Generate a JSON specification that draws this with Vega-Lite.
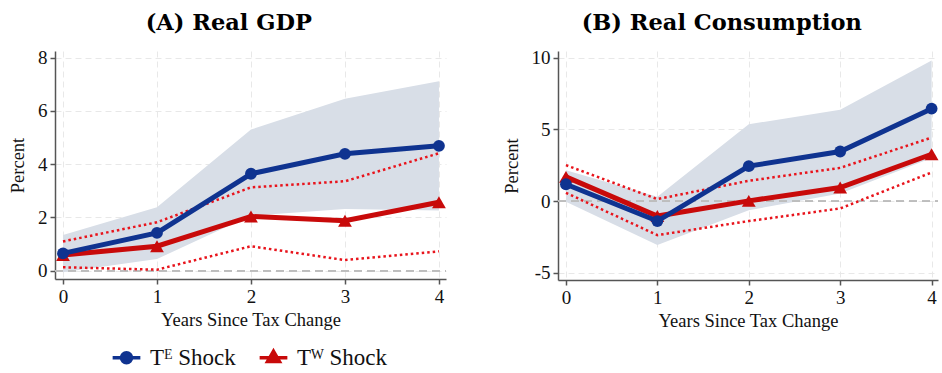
{
  "$schema": "https://vega.github.io/schema/vega-lite/v6.json",
  "background": "white",
  "padding": {"left": 8, "top": 12, "right": 4, "bottom": 2},
  "datasets": {
    "lines": [
      {"panel": "A", "series": "e", "year": 0, "val": 0.65},
      {"panel": "A", "series": "e", "year": 1, "val": 1.42},
      {"panel": "A", "series": "e", "year": 2, "val": 3.64},
      {"panel": "A", "series": "e", "year": 3, "val": 4.39},
      {"panel": "A", "series": "e", "year": 4, "val": 4.69},
      {"panel": "A", "series": "w", "year": 0, "val": 0.59},
      {"panel": "A", "series": "w", "year": 1, "val": 0.92},
      {"panel": "A", "series": "w", "year": 2, "val": 2.04},
      {"panel": "A", "series": "w", "year": 3, "val": 1.88},
      {"panel": "A", "series": "w", "year": 4, "val": 2.57},
      {"panel": "B", "series": "e", "year": 0, "val": 1.18},
      {"panel": "B", "series": "e", "year": 1, "val": -1.39},
      {"panel": "B", "series": "e", "year": 2, "val": 2.44},
      {"panel": "B", "series": "e", "year": 3, "val": 3.46},
      {"panel": "B", "series": "e", "year": 4, "val": 6.45},
      {"panel": "B", "series": "w", "year": 0, "val": 1.69},
      {"panel": "B", "series": "w", "year": 1, "val": -1.04},
      {"panel": "B", "series": "w", "year": 2, "val": 0.02},
      {"panel": "B", "series": "w", "year": 3, "val": 0.95},
      {"panel": "B", "series": "w", "year": 4, "val": 3.27}
    ],
    "bands": [
      {"panel": "A", "year": 0, "e_lo": -0.06, "e_hi": 1.34, "w_lo": 0.13, "w_hi": 1.10},
      {"panel": "A", "year": 1, "e_lo": 0.44, "e_hi": 2.38, "w_lo": 0.04, "w_hi": 1.82},
      {"panel": "A", "year": 2, "e_lo": 2.07, "e_hi": 5.30, "w_lo": 0.92, "w_hi": 3.13},
      {"panel": "A", "year": 3, "e_lo": 2.32, "e_hi": 6.46, "w_lo": 0.40, "w_hi": 3.36},
      {"panel": "A", "year": 4, "e_lo": 2.26, "e_hi": 7.11, "w_lo": 0.73, "w_hi": 4.41},
      {"panel": "B", "year": 0, "e_lo": -0.05, "e_hi": 2.16, "w_lo": 0.58, "w_hi": 2.51},
      {"panel": "B", "year": 1, "e_lo": -3.06, "e_hi": 0.30, "w_lo": -2.37, "w_hi": 0.14},
      {"panel": "B", "year": 2, "e_lo": -0.63, "e_hi": 5.36, "w_lo": -1.39, "w_hi": 1.42},
      {"panel": "B", "year": 3, "e_lo": 0.53, "e_hi": 6.38, "w_lo": -0.51, "w_hi": 2.32},
      {"panel": "B", "year": 4, "e_lo": 3.0, "e_hi": 9.81, "w_lo": 2.0, "w_hi": 4.43}
    ]
  },
  "spacing": 53,
  "hconcat": [
    {
      "width": 391,
      "height": 228,
      "title": {"text": "(A) Real GDP"},
      "encoding": {
        "x": {"field": "year", "type": "quantitative", "scale": {"domain": [-0.085, 4.075], "nice": false, "zero": false},
              "axis": {"values": [0, 1, 2, 3, 4], "format": "d", "title": "Years Since Tax Change"}}
      },
      "layer": [
        {
          "data": {"name": "bands"},
          "transform": [{"filter": "datum.panel == 'A'"}],
          "mark": {"type": "area", "color": "#d8dee7", "opacity": 1},
          "encoding": {
            "y": {"field": "e_lo", "type": "quantitative", "scale": {"domain": [-0.31, 8.25], "nice": false, "zero": false},
                  "axis": {"values": [0, 2, 4, 6, 8], "title": "Percent", "labelExpr": "'' + datum.value"}},
            "y2": {"field": "e_hi"}
          }
        },
        {
          "data": {"name": "bands"},
          "transform": [{"filter": "datum.panel == 'A'"}],
          "mark": {"type": "rule", "color": "#bdbdbd", "strokeWidth": 1.5, "strokeDash": [8, 5]},
          "encoding": {"y": {"datum": 0}, "x": {"value": 0}, "x2": {"value": 391}}
        },
        {
          "data": {"name": "bands"},
          "transform": [{"filter": "datum.panel == 'A'"}, {"fold": ["w_lo", "w_hi"], "as": ["bound", "val"]}],
          "mark": {"type": "line", "color": "#e8141c", "strokeWidth": 2.5, "strokeDash": [2.5, 3]},
          "encoding": {"y": {"field": "val", "type": "quantitative"}, "detail": {"field": "bound"}}
        },
        {
          "data": {"name": "lines"},
          "transform": [{"filter": "datum.panel == 'A' && datum.series == 'w'"}],
          "layer": [
            {"mark": {"type": "line", "strokeWidth": 5}},
            {"mark": {"type": "point", "filled": true, "opacity": 1, "size": 190, "shape": "triangle-up"}}
          ],
          "encoding": {
            "y": {"field": "val", "type": "quantitative"},
            "color": {"field": "series", "type": "nominal", "scale": {"domain": ["e", "w"], "range": ["#0f3390", "#c80a0a"]},
              "legend": {"title": null, "orient": "none", "legendX": 60, "legendY": 295, "direction": "horizontal",
                "labelExpr": "datum.value == 'e' ? 'Tᴱ Shock' : 'Tᵂ Shock'",
                "labelFont": "Liberation Serif", "labelFontSize": 23, "labelColor": "#111", "symbolSize": 300, "labelOffset": 12, "columnPadding": 16,
                "encode": {"symbols": {"update": {
                  "shape": {"signal": "datum.value == 'e' ? 'M-1.6,0H1.6M0.58,0A0.58,0.58,0,1,1,-0.58,0A0.58,0.58,0,1,1,0.58,0Z' : 'M-1.6,0H1.6M0,-0.75L0.68,0.42L-0.68,0.42Z'"},
                  "strokeWidth": {"value": 3.5},
                  "fill": {"scale": "color", "field": "value"},
                  "stroke": {"scale": "color", "field": "value"},
                  "opacity": {"value": 1}}}}}}
          }
        },
        {
          "data": {"name": "lines"},
          "transform": [{"filter": "datum.panel == 'A' && datum.series == 'e'"}],
          "layer": [
            {"mark": {"type": "line", "strokeWidth": 5}},
            {"mark": {"type": "point", "filled": true, "opacity": 1, "size": 140, "shape": "circle"}}
          ],
          "encoding": {
            "y": {"field": "val", "type": "quantitative"},
            "color": {"field": "series", "type": "nominal", "scale": {"domain": ["e", "w"], "range": ["#0f3390", "#c80a0a"]},
              "legend": {"title": null, "orient": "none", "legendX": 60, "legendY": 295, "direction": "horizontal",
                "labelExpr": "datum.value == 'e' ? 'Tᴱ Shock' : 'Tᵂ Shock'",
                "labelFont": "Liberation Serif", "labelFontSize": 23, "labelColor": "#111", "symbolSize": 300, "labelOffset": 12, "columnPadding": 16,
                "encode": {"symbols": {"update": {
                  "shape": {"signal": "datum.value == 'e' ? 'M-1.6,0H1.6M0.58,0A0.58,0.58,0,1,1,-0.58,0A0.58,0.58,0,1,1,0.58,0Z' : 'M-1.6,0H1.6M0,-0.75L0.68,0.42L-0.68,0.42Z'"},
                  "strokeWidth": {"value": 3.5},
                  "fill": {"scale": "color", "field": "value"},
                  "stroke": {"scale": "color", "field": "value"},
                  "opacity": {"value": 1}}}}}}
          }
        }
      ]
    },
    {
      "width": 380,
      "height": 229,
      "title": {"text": "(B) Real Consumption"},
      "encoding": {
        "x": {"field": "year", "type": "quantitative", "scale": {"domain": [-0.087, 4.07], "nice": false, "zero": false},
              "axis": {"values": [0, 1, 2, 3, 4], "format": "d", "title": "Years Since Tax Change"}}
      },
      "layer": [
        {
          "data": {"name": "bands"},
          "transform": [{"filter": "datum.panel == 'B'"}],
          "mark": {"type": "area", "color": "#d8dee7", "opacity": 1},
          "encoding": {
            "y": {"field": "e_lo", "type": "quantitative", "scale": {"domain": [-5.5, 10.47], "nice": false, "zero": false},
                  "axis": {"values": [-5, 0, 5, 10], "title": "Percent", "labelExpr": "'' + datum.value"}},
            "y2": {"field": "e_hi"}
          }
        },
        {
          "data": {"name": "bands"},
          "transform": [{"filter": "datum.panel == 'B'"}],
          "mark": {"type": "rule", "color": "#bdbdbd", "strokeWidth": 1.5, "strokeDash": [8, 5]},
          "encoding": {"y": {"datum": 0}, "x": {"value": 0}, "x2": {"value": 380}}
        },
        {
          "data": {"name": "bands"},
          "transform": [{"filter": "datum.panel == 'B'"}, {"fold": ["w_lo", "w_hi"], "as": ["bound", "val"]}],
          "mark": {"type": "line", "color": "#e8141c", "strokeWidth": 2.5, "strokeDash": [2.5, 3]},
          "encoding": {"y": {"field": "val", "type": "quantitative"}, "detail": {"field": "bound"}}
        },
        {
          "data": {"name": "lines"},
          "transform": [{"filter": "datum.panel == 'B' && datum.series == 'w'"}],
          "layer": [
            {"mark": {"type": "line", "strokeWidth": 5}},
            {"mark": {"type": "point", "filled": true, "opacity": 1, "size": 190, "shape": "triangle-up"}}
          ],
          "encoding": {
            "y": {"field": "val", "type": "quantitative"},
            "color": {"field": "series", "type": "nominal", "scale": {"domain": ["e", "w"], "range": ["#0f3390", "#c80a0a"]},
              "legend": {"title": null, "orient": "none", "legendX": 60, "legendY": 295, "direction": "horizontal",
                "labelExpr": "datum.value == 'e' ? 'Tᴱ Shock' : 'Tᵂ Shock'",
                "labelFont": "Liberation Serif", "labelFontSize": 23, "labelColor": "#111", "symbolSize": 300, "labelOffset": 12, "columnPadding": 16,
                "encode": {"symbols": {"update": {
                  "shape": {"signal": "datum.value == 'e' ? 'M-1.6,0H1.6M0.58,0A0.58,0.58,0,1,1,-0.58,0A0.58,0.58,0,1,1,0.58,0Z' : 'M-1.6,0H1.6M0,-0.75L0.68,0.42L-0.68,0.42Z'"},
                  "strokeWidth": {"value": 3.5},
                  "fill": {"scale": "color", "field": "value"},
                  "stroke": {"scale": "color", "field": "value"},
                  "opacity": {"value": 1}}}}}}
          }
        },
        {
          "data": {"name": "lines"},
          "transform": [{"filter": "datum.panel == 'B' && datum.series == 'e'"}],
          "layer": [
            {"mark": {"type": "line", "strokeWidth": 5}},
            {"mark": {"type": "point", "filled": true, "opacity": 1, "size": 140, "shape": "circle"}}
          ],
          "encoding": {
            "y": {"field": "val", "type": "quantitative"},
            "color": {"field": "series", "type": "nominal", "scale": {"domain": ["e", "w"], "range": ["#0f3390", "#c80a0a"]},
              "legend": {"title": null, "orient": "none", "legendX": 60, "legendY": 295, "direction": "horizontal",
                "labelExpr": "datum.value == 'e' ? 'Tᴱ Shock' : 'Tᵂ Shock'",
                "labelFont": "Liberation Serif", "labelFontSize": 23, "labelColor": "#111", "symbolSize": 300, "labelOffset": 12, "columnPadding": 16,
                "encode": {"symbols": {"update": {
                  "shape": {"signal": "datum.value == 'e' ? 'M-1.6,0H1.6M0.58,0A0.58,0.58,0,1,1,-0.58,0A0.58,0.58,0,1,1,0.58,0Z' : 'M-1.6,0H1.6M0,-0.75L0.68,0.42L-0.68,0.42Z'"},
                  "strokeWidth": {"value": 3.5},
                  "fill": {"scale": "color", "field": "value"},
                  "stroke": {"scale": "color", "field": "value"},
                  "opacity": {"value": 1}}}}}}
          }
        }
      ]
    }
  ],
  "resolve": {"scale": {"color": "shared"}},
  "config": {
    "view": {"stroke": null},
    "axis": {
      "labelFont": "Liberation Serif", "titleFont": "Liberation Serif",
      "labelFontSize": 19, "titleFontSize": 18.5, "titleFontWeight": "normal",
      "labelColor": "#111", "titleColor": "#111",
      "domainColor": "#555", "domainWidth": 1.5, "tickColor": "#555", "tickWidth": 1.5, "tickSize": 5,
      "labelPadding": 3, "titlePadding": 4,
      "gridColor": "#e8e8e8", "gridDash": [6, 4], "gridWidth": 1
    },
    "axisY": {"titlePadding": 10},
    "title": {"font": "DejaVu Serif", "fontSize": 22.5, "fontWeight": "bold", "color": "#000", "frame": "bounds", "anchor": "middle", "offset": 14}
  }
}
